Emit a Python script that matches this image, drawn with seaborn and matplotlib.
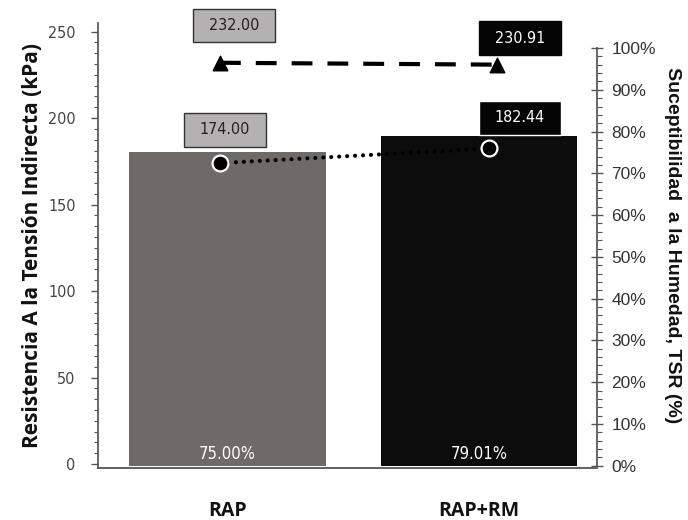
import numpy as np
import pandas as pd
import matplotlib
matplotlib.use("Agg")
import matplotlib.pyplot as plt
from matplotlib.path import Path
from matplotlib.ticker import MultipleLocator, FixedLocator, FuncFormatter
import seaborn as sns

sns.set_theme(style="white")
plt.rcParams["font.family"] = ["Liberation Sans", "DejaVu Sans"]

# Data
mezclas = ["RAP", "RAP+RM"]
tsr = [75.00, 79.01]                 # %
rti_seco = [232.00, 230.91]          # kPa, condición seca
rti_humedo = [174.00, 182.44]        # kPa, condición húmeda
colores_barra = ["#6e6a68", "#0c0c0c"]

df = pd.DataFrame({"mezcla": mezclas, "tsr": tsr})


def caja_ancha(x0, y0, width, height, mutation_size):
    """Caja rectangular con más margen horizontal que vertical."""
    px = 1.0 * mutation_size
    py = 0.58 * mutation_size
    x0, y0 = x0 - px, y0 - py
    x1, y1 = x0 + width + 2 * px, y0 + height + 2 * py
    return Path([(x0, y0), (x1, y0), (x1, y1), (x0, y1), (x0, y0)], closed=True)


fig = plt.figure(figsize=(6.88, 5.2), dpi=100)
ax2 = fig.add_axes([0.1424, 0.1, 0.7253, 0.8558])
ax = ax2.twinx()
ax.yaxis.tick_left()
ax.yaxis.set_label_position("left")
ax2.yaxis.tick_right()
ax2.yaxis.set_label_position("right")

# Barras de TSR (eje derecho)
sns.barplot(data=df, x="mezcla", y="tsr", hue="mezcla", palette=colores_barra,
            width=0.78, dodge=False, legend=False, saturation=1, ax=ax2,
            edgecolor="none", errorbar=None)

pos = np.arange(len(mezclas))
x_seco = pos + np.array([-0.03, 0.07])
x_hum = pos + np.array([-0.03, 0.04])

# Resistencia en seco (discontinua) y en húmedo (punteada), eje izquierdo
ax.plot(x_seco, rti_seco, color="black", lw=3.0, zorder=3,
        linestyle=(0, (5.0, 3.6)), dash_capstyle="butt")
ax.plot(x_hum, rti_humedo, color="black", lw=3.0, zorder=3,
        linestyle=(0, (0.01, 1.9)), dash_capstyle="round")
ax.scatter(x_seco, rti_seco, marker="^", s=110, color="black", zorder=4)
ax.scatter(x_hum, rti_humedo, marker="o", s=130, facecolor="black",
           edgecolor="white", linewidth=1.6, zorder=4)

ax2.set_xlim(-0.515, 1.469)
ax.set_ylim(-2.3, 255)
ax2.set_ylim(-0.55, 106.0)

# Etiquetas de valor
lab_font = dict(fontsize=11.5, family=["DejaVu Sans"], fontstretch="condensed",
                ha="center", va="center", annotation_clip=False)
offs_seco = [(10, 27), (17, 19)]
offs_hum = [(3.6, 24), (22, 22)]
estilos = [dict(fc="#b3b1b1", ec="#333333", tc="#222222"),
           dict(fc="#050505", ec="#050505", tc="white")]
estilos_h = [dict(fc="#b3b1b1", ec="#333333", tc="#222222"),
             dict(fc="#050505", ec="white", tc="white")]
for i in range(len(mezclas)):
    st = estilos[i]
    ax.annotate(f"{rti_seco[i]:.2f}", (x_seco[i], rti_seco[i]),
                xytext=offs_seco[i], textcoords="offset points", color=st["tc"],
                bbox=dict(boxstyle=caja_ancha, fc=st["fc"], ec=st["ec"], lw=1),
                **lab_font)
    st = estilos_h[i]
    ax.annotate(f"{rti_humedo[i]:.2f}", (x_hum[i], rti_humedo[i]),
                xytext=offs_hum[i], textcoords="offset points", color=st["tc"],
                bbox=dict(boxstyle=caja_ancha, fc=st["fc"], ec=st["ec"], lw=1),
                **lab_font)
    ax2.text(pos[i], 2.8, f"{tsr[i]:.2f}%", color="white", ha="center", va="center",
             fontsize=12, family=["DejaVu Sans"], fontstretch="condensed")

# Ejes
for a in (ax, ax2):
    for s in a.spines.values():
        s.set_visible(False)
ax.spines["left"].set_visible(True)
ax.spines["left"].set_color("#555555")
ax.spines["bottom"].set_visible(True)
ax.spines["bottom"].set_color("#555555")
ax.spines["bottom"].set_linewidth(1.3)
ax2.spines["right"].set_visible(True)
ax2.spines["right"].set_color("#555555")
ax2.spines["right"].set_bounds(0, 100)

ax.yaxis.set_major_locator(MultipleLocator(50))
ax.yaxis.set_minor_locator(FixedLocator(np.arange(0, 255, 6.25)))
ax.tick_params(axis="y", which="major", direction="out", length=5, width=1,
               color="#555555", labelsize=11.5, labelcolor="#444444", pad=11)
ax.tick_params(axis="y", which="minor", direction="out", length=3, width=0.8,
               color="#555555")
ax.tick_params(axis="y", left=True, right=False, which="both")
for t in ax.get_yticklabels():
    t.set_family(["DejaVu Sans"])
    t.set_fontstretch("condensed")

ax2.yaxis.set_major_locator(FixedLocator(np.arange(0, 101, 10)))
ax2.yaxis.set_minor_locator(FixedLocator(np.arange(0, 101, 2)))
ax2.yaxis.set_major_formatter(FuncFormatter(lambda v, p: f"{v:.0f}%"))
ax2.tick_params(axis="y", which="major", direction="inout", length=9, width=1,
                color="#555555", labelsize=12.5, labelcolor="#333333", pad=6)
ax2.tick_params(axis="y", which="minor", direction="out", length=3.5, width=0.8,
                color="#555555")
ax2.tick_params(axis="y", right=True, left=False, which="both")

ax2.set_xticks(pos)
ax2.set_xticklabels(mezclas)
ax2.tick_params(axis="x", length=0, pad=24, labelsize=14)
for t in ax2.get_xticklabels():
    t.set_fontweight("bold")
    t.set_family(["Open Sans", "DejaVu Sans"])
    t.set_color("#111111")
ax2.set_xlabel("")
ax.set_xlabel("")

ax.set_ylabel("Resistencia A la Tensión Indirecta (kPa)", fontsize=15,
              fontweight="bold", family=["Open Sans", "DejaVu Sans"],
              color="#111111", labelpad=4)
ax2.set_ylabel("Suceptibilidad  a la Humedad, TSR (%)", fontsize=14,
               fontweight="bold", rotation=-90, va="bottom", color="#111111",
               labelpad=6)

fig.savefig("out.png", dpi=100)
